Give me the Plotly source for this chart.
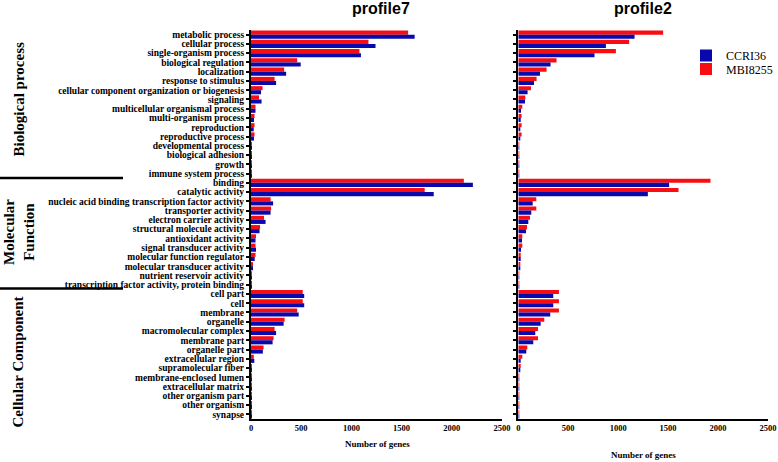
import plotly.graph_objects as go

W, H = 778, 462

categories = [
    "metabolic process", "cellular process", "single-organism process", "biological regulation",
    "localization", "response to stimulus", "cellular component organization or biogenesis",
    "signaling", "multicellular organismal process", "multi-organism process", "reproduction",
    "reproductive process", "developmental process", "biological adhesion", "growth",
    "immune system process",
    "binding", "catalytic activity", "nucleic acid binding transcription factor activity",
    "transporter activity", "electron carrier activity", "structural molecule activity",
    "antioxidant activity", "signal transducer activity", "molecular function regulator",
    "molecular transducer activity", "nutrient reservoir activity",
    "transcription factor activity, protein binding",
    "cell part", "cell", "membrane", "organelle", "macromolecular complex", "membrane part",
    "organelle part", "extracellular region", "supramolecular fiber", "membrane-enclosed lumen",
    "extracellular matrix", "other organism part", "other organism", "synapse",
]

profile7_mbi8255 = [1565, 1170, 1080, 460, 330, 235, 115, 80, 45, 35, 35, 35, 5, 3, 2, 2,
                    2120, 1730, 195, 200, 130, 90, 50, 45, 45, 20, 8, 5,
                    515, 515, 460, 335, 235, 225, 125, 28, 10, 10, 5, 5, 5, 2]
profile7_ccri36 = [1630, 1240, 1095, 495, 350, 250, 100, 105, 45, 30, 27, 30, 5, 3, 2, 2,
                   2210, 1820, 220, 195, 145, 85, 45, 50, 37, 20, 5, 3,
                   530, 530, 475, 325, 250, 215, 118, 33, 8, 8, 3, 10, 10, 2]

profile2_mbi8255 = [1450, 1110, 977, 383, 283, 183, 127, 70, 40, 33, 33, 33, 8, 5, 3, 3,
                    1924, 1604, 180, 180, 117, 87, 40, 40, 24, 20, 5, 5,
                    407, 407, 407, 260, 197, 197, 90, 40, 24, 10, 5, 5, 5, 3]
profile2_ccri36 = [1164, 877, 763, 323, 217, 157, 93, 67, 27, 24, 20, 20, 5, 3, 2, 2,
                   1510, 1297, 144, 130, 100, 77, 37, 27, 24, 14, 5, 3,
                   350, 350, 320, 224, 170, 150, 80, 24, 17, 8, 5, 5, 5, 2]

panel_titles = ["profile7", "profile2"]
series_names = ["CCRI36", "MBI8255"]
group_labels = ["Biological process", "Molecular<br>Function", "Cellular Component"]
x_ticks = [0, 500, 1000, 1500, 2000, 2500]
x_title = "Number of genes"

RED = "#f70d12"
BLUE = "#0808ad"
SERIF = "Liberation Serif"
SANS = "Liberation Sans"


def px(x):
    return x / W


def py(y):
    return 1 - y / H


fig = go.Figure()

# red first -> drawn on top within each category (reversed axis)
fig.add_bar(y=categories, x=profile7_mbi8255, orientation="h", name=series_names[1],
            marker=dict(color=RED, line=dict(width=0)), xaxis="x", yaxis="y",
            showlegend=False)
fig.add_bar(y=categories, x=profile7_ccri36, orientation="h", name=series_names[0],
            marker=dict(color=BLUE, line=dict(width=0)), xaxis="x", yaxis="y",
            showlegend=False)
fig.add_bar(y=categories, x=profile2_mbi8255, orientation="h", name=series_names[1],
            marker=dict(color=RED, line=dict(width=0)), xaxis="x2", yaxis="y2",
            showlegend=True, legend="legend2")
fig.add_bar(y=categories, x=profile2_ccri36, orientation="h", name=series_names[0],
            marker=dict(color=BLUE, line=dict(width=0)), xaxis="x2", yaxis="y2",
            showlegend=True, legend="legend")

y_dom = [py(419), py(30)]
n = len(categories)

xaxis_common = dict(range=[0, 2500], tickvals=x_ticks, showline=True, linecolor="black",
                    linewidth=2, showgrid=False, zeroline=False, ticks="",
                    tickfont=dict(family=SERIF, size=8.5, color="black", weight="bold"),
                    fixedrange=True, automargin=False)
yaxis_common = dict(type="category", categoryorder="array", categoryarray=categories,
                    range=[n - 0.5, -0.5], showline=True, linecolor="black", linewidth=2,
                    showgrid=False, zeroline=False, ticks="outside", ticklen=3, tickwidth=1.5,
                    tickcolor="black", domain=y_dom, fixedrange=True,
                    tickmode="linear", tick0=0, dtick=1, automargin=False)

fig.update_layout(
    width=W, height=H,
    margin=dict(l=0, r=0, t=0, b=0, autoexpand=False),
    paper_bgcolor="white", plot_bgcolor="white",
    barmode="group", bargap=0.12, bargroupgap=0,
    xaxis=dict(domain=[px(251), px(502)], anchor="y", **xaxis_common),
    xaxis2=dict(domain=[px(518.3), px(768)], anchor="y2", **xaxis_common),
    yaxis=dict(anchor="x", showticklabels=True,
               tickfont=dict(family=SERIF, size=9.5, color="black", weight="bold"),
               **yaxis_common),
    yaxis2=dict(anchor="x2", showticklabels=False, **yaxis_common),
    legend=dict(x=px(686), y=py(55.5), xanchor="left", yanchor="middle",
                bgcolor="rgba(0,0,0,0)", font=dict(family=SERIF, size=12, color="black")),
    legend2=dict(x=px(686), y=py(69), xanchor="left", yanchor="middle",
                 bgcolor="rgba(0,0,0,0)", font=dict(family=SERIF, size=12, color="black")),
    showlegend=True,
)

annotations = [
    dict(text=panel_titles[0], x=px(381), y=py(9), xref="paper", yref="paper",
         showarrow=False, xanchor="center", yanchor="middle",
         font=dict(family=SANS, size=16, color="black", weight="bold")),
    dict(text=panel_titles[1], x=px(643), y=py(9), xref="paper", yref="paper",
         showarrow=False, xanchor="center", yanchor="middle",
         font=dict(family=SANS, size=16, color="black", weight="bold")),
    dict(text=x_title, x=px(377), y=py(444), xref="paper", yref="paper",
         showarrow=False, xanchor="center", yanchor="middle",
         font=dict(family=SERIF, size=9, color="black", weight="bold")),
    dict(text=x_title, x=px(643), y=py(455), xref="paper", yref="paper",
         showarrow=False, xanchor="center", yanchor="middle",
         font=dict(family=SERIF, size=9, color="black", weight="bold")),
    dict(text=group_labels[0], x=px(18.5), y=py(100), xref="paper", yref="paper",
         showarrow=False, xanchor="center", yanchor="middle", textangle=-90,
         font=dict(family=SERIF, size=15, color="black", weight="bold")),
    dict(text=group_labels[1], x=px(19), y=py(232), xref="paper", yref="paper",
         showarrow=False, xanchor="center", yanchor="middle", textangle=-90,
         font=dict(family=SERIF, size=15, color="black", weight="bold")),
    dict(text=group_labels[2], x=px(17.5), y=py(362), xref="paper", yref="paper",
         showarrow=False, xanchor="center", yanchor="middle", textangle=-90,
         font=dict(family=SERIF, size=15, color="black", weight="bold")),
]
fig.update_layout(annotations=annotations)

shapes = [
    dict(type="line", xref="paper", yref="paper", x0=0, x1=px(123), y0=py(178), y1=py(178),
         line=dict(color="black", width=2.5)),
    dict(type="line", xref="paper", yref="paper", x0=0, x1=px(123), y0=py(288.5), y1=py(288.5),
         line=dict(color="black", width=2.5)),
]
fig.update_layout(shapes=shapes)

fig.write_html(
    "out.html",
    config=dict(displayModeBar=False),
    post_script="document.body.style.margin='0';document.body.style.overflow='hidden';",
)
